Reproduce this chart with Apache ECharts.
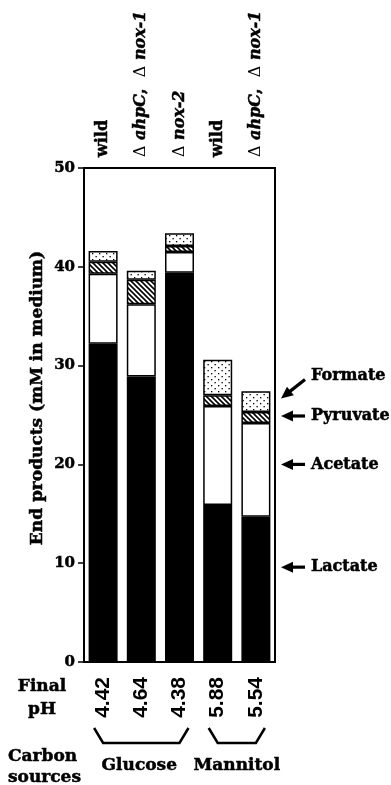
<!DOCTYPE html>
<html>
<head>
<meta charset="utf-8">
<script src="https://cdn.jsdelivr.net/npm/echarts@6/dist/echarts.min.js"></script>
<style>
html,body{margin:0;padding:0;background:#fff;}
#c{width:391px;height:785px;}
</style>
</head>
<body>
<div id="c"></div>
<script>
// ---- data ----
const strains = ['wild', 'ahpC,nox-1', 'nox-2', 'wild', 'ahpC,nox-1'];
const finalPH = ['4.42', '4.64', '4.38', '5.88', '5.54'];
const lactate = [32.2, 28.9, 39.4, 15.9, 14.7];
const acetate = [7.1, 7.3, 2.1, 10.0, 9.5];
const pyruvate = [1.2, 2.5, 0.6, 1.1, 1.1];
const formate = [1.1, 0.9, 1.3, 3.6, 2.1];
const yTicks = [0, 10, 20, 30, 40, 50];
const productLabels = ['Lactate', 'Acetate', 'Pyruvate', 'Formate'];
const productArrowY = [9.6, 20.0, 24.9, 28.8];
const carbonSources = ['Glucose', 'Mannitol'];

const SERIF = '"DejaVu Serif", serif';
const TB = 0.5; // slight stroke to thicken the bold serif

function makeHatch() {
  const c = document.createElement('canvas');
  c.width = 5; c.height = 5;
  const g = c.getContext('2d');
  g.fillStyle = '#fff'; g.fillRect(0, 0, 5, 5);
  g.strokeStyle = '#000'; g.lineWidth = 1.6;
  g.beginPath();
  g.moveTo(-1, -1); g.lineTo(6, 6);
  g.moveTo(-1, 4); g.lineTo(1, 6);
  g.moveTo(4, -1); g.lineTo(6, 1);
  g.stroke();
  return c;
}
function makeDots() {
  const c = document.createElement('canvas');
  c.width = 7; c.height = 6;
  const g = c.getContext('2d');
  g.fillStyle = '#fff'; g.fillRect(0, 0, 7, 6);
  g.fillStyle = '#000';
  g.fillRect(1, 1, 1.3, 1.3);
  g.fillRect(4.5, 4, 1.3, 1.3);
  return c;
}

const chart = echarts.init(document.getElementById('c'), null, {renderer: 'canvas'});

const border = {borderColor: '#000', borderWidth: 1.5};

const option = {
  animation: false,
  backgroundColor: '#fff',
  grid: {left: 84, right: 116, top: 168, bottom: 123, show: true, borderColor: '#000', borderWidth: 2, backgroundColor: 'transparent'},
  xAxis: [
    {
      type: 'category', position: 'bottom', data: finalPH,
      axisLine: {lineStyle: {color: '#000', width: 2}},
      axisTick: {show: false},
      axisLabel: {rotate: 90, margin: 15, color: '#000', fontFamily: '"Liberation Sans", Arial, sans-serif', fontWeight: 'bold', fontSize: 21}
    },
    {
      type: 'category', position: 'top', data: strains,
      axisLine: {lineStyle: {color: '#000', width: 2}},
      axisTick: {show: false},
      axisLabel: {show: false}
    }
  ],
  yAxis: {
    type: 'value', min: 0, max: 50, interval: 10,
    axisLine: {show: true, lineStyle: {color: '#000', width: 2}},
    axisTick: {show: true, inside: false, length: 6, lineStyle: {color: '#000', width: 1.5}},
    axisLabel: {margin: 9, color: '#000', fontFamily: SERIF, fontWeight: 'bold', fontSize: 15,
      textBorderColor: '#000', textBorderWidth: TB,
      formatter: v => yTicks.includes(v) ? String(v) : ''},
    splitLine: {show: false}
  },
  series: [
    {name: 'Lactate', type: 'bar', stack: 's', barWidth: 29, data: lactate, itemStyle: Object.assign({color: '#000'}, border)},
    {name: 'Acetate', type: 'bar', stack: 's', barWidth: 29, data: acetate, itemStyle: Object.assign({color: '#fff'}, border)},
    {name: 'Pyruvate', type: 'bar', stack: 's', barWidth: 29, data: pyruvate, itemStyle: Object.assign({color: {image: makeHatch(), repeat: 'repeat'}}, border)},
    {name: 'Formate', type: 'bar', stack: 's', barWidth: 29, data: formate, itemStyle: Object.assign({color: {image: makeDots(), repeat: 'repeat'}}, border)}
  ]
};
chart.setOption(option);

// ---- annotations ----
function arrow(tipX, tipY, tailX, tailY) {
  const dx = tailX - tipX, dy = tailY - tipY;
  const L = Math.sqrt(dx * dx + dy * dy);
  const ux = dx / L, uy = dy / L;
  const px = -uy, py = ux;
  const hl = 12, hw = 5.5;
  const bx = tipX + ux * hl, by = tipY + uy * hl;
  return [
    {type: 'polygon', shape: {points: [[tipX, tipY], [bx + px * hw, by + py * hw], [bx - px * hw, by - py * hw]]}, style: {fill: '#000'}},
    {type: 'line', shape: {x1: bx - ux * 1, y1: by - uy * 1, x2: tailX, y2: tailY}, style: {stroke: '#000', lineWidth: 3.2}}
  ];
}

function txt(t, x, y, align, size) {
  return {type: 'text', style: {text: t, x: x, y: y, textAlign: align || 'center', textVerticalAlign: 'middle',
    font: 'bold ' + (size || 17) + 'px ' + SERIF, fill: '#000', stroke: '#000', lineWidth: TB}};
}

const g = [];
const tipX = 281, tailX = 305;
productLabels.forEach((lab, i) => {
  const y = chart.convertToPixel({yAxisIndex: 0}, productArrowY[i]);
  if (lab === 'Formate') {
    g.push(...arrow(tipX, y + 21, tailX, y + 2));
    g.push(txt(lab, 311, y - 2, 'left', 16));
  } else {
    g.push(...arrow(tipX, y, tailX, y));
    g.push(txt(lab, 311, y, 'left', 16));
  }
});

// y-axis title
g.push({type: 'text', rotation: Math.PI / 2, x: 38, y: 398,
  style: {text: 'End products (mM in medium)', x: 0, y: 0, textAlign: 'center', textVerticalAlign: 'middle',
    font: 'bold 17px ' + SERIF, fill: '#000', stroke: '#000', lineWidth: TB}});

// strain labels above bars (rotated, reading bottom to top)
const cx = strains.map((s, i) => chart.convertToPixel({xAxisIndex: 0}, i));
const richStyles = {
  b: {font: 'bold 16px ' + SERIF, fill: '#000', stroke: '#000', lineWidth: TB},
  i: {font: 'italic bold 16px ' + SERIF, fill: '#000', stroke: '#000', lineWidth: TB},
  d: {font: 'normal 16px ' + SERIF, fill: '#000'}
};
function strainText(v) {
  if (v === 'wild') return '{b|wild}';
  if (v === 'nox-2') return '{d|Δ} {i|nox-2}';
  return '{d|Δ} {i|ahpC}{b|,}  {d|Δ} {i|nox-1}';
}
strains.forEach((s, i) => {
  g.push({type: 'text', rotation: Math.PI / 2, x: cx[i], y: 157,
    style: {text: strainText(s), x: 0, y: 0, textAlign: 'left', textVerticalAlign: 'middle', rich: richStyles,
      font: 'bold 16px ' + SERIF, fill: '#000'}});
});

g.push(txt('Final', 42, 687));
g.push(txt('pH', 42, 710));
g.push(txt('Carbon', 8, 757, 'left'));
g.push(txt('sources', 8, 778, 'left'));

// brackets spanning category groups
function bracket(i0, i1) {
  const a = cx[i0] - 9, b = cx[i1] + 9;
  return {type: 'polyline', shape: {points: [[a, 728], [a + 9, 743], [b - 9, 743], [b, 728]]}, style: {stroke: '#000', lineWidth: 2.5, fill: null}};
}
g.push(bracket(0, 2));
g.push(bracket(3, 4));
g.push(txt(carbonSources[0], (cx[0] + cx[2]) / 2 - 2, 766));
g.push(txt(carbonSources[1], (cx[3] + cx[4]) / 2 + 0, 766));

chart.setOption({graphic: g});
</script>
</body>
</html>
